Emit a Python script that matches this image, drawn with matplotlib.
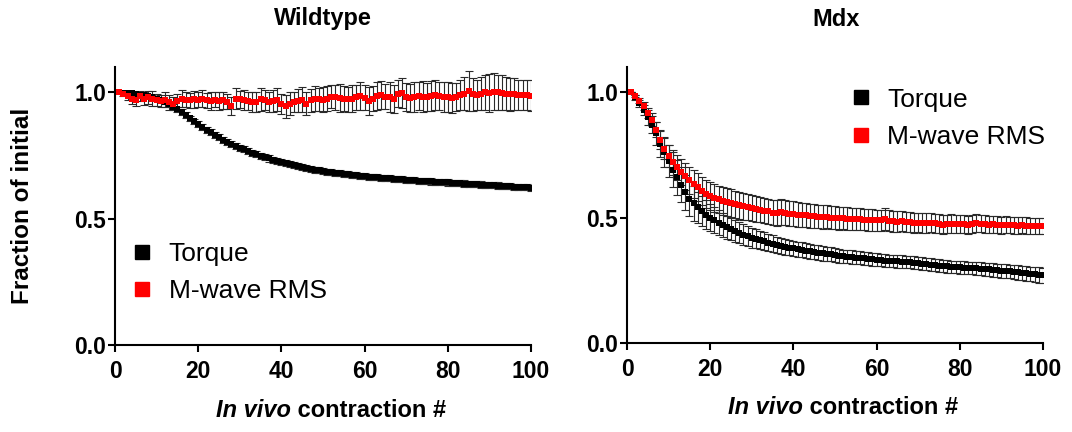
import matplotlib.pyplot as plt
import numpy as np
from matplotlib.lines import Line2D
from matplotlib.offsetbox import TextArea, HPacker, AnnotationBbox

plt.rcParams['font.family'] = ['Liberation Sans', 'DejaVu Sans']

contraction = np.arange(1, 101)

# Wildtype
wt_torque = [
    1.000, 0.998, 0.996, 0.999, 0.994, 0.991, 0.989, 0.985, 0.980, 0.975,
    0.969, 0.961, 0.952, 0.943, 0.933, 0.921, 0.909, 0.897, 0.885, 0.873,
    0.862, 0.851, 0.841, 0.831, 0.822, 0.813, 0.804, 0.796, 0.788, 0.781,
    0.774, 0.767, 0.760, 0.754, 0.749, 0.743, 0.738, 0.733, 0.728, 0.723,
    0.719, 0.715, 0.711, 0.707, 0.704, 0.700, 0.697, 0.694, 0.691, 0.689,
    0.686, 0.684, 0.681, 0.679, 0.677, 0.675, 0.673, 0.671, 0.669, 0.668,
    0.666, 0.665, 0.663, 0.662, 0.660, 0.659, 0.658, 0.656, 0.655, 0.654,
    0.653, 0.652, 0.650, 0.649, 0.648, 0.647, 0.646, 0.645, 0.644, 0.643,
    0.642, 0.641, 0.640, 0.639, 0.638, 0.637, 0.636, 0.635, 0.634, 0.633,
    0.632, 0.631, 0.630, 0.629, 0.628, 0.627, 0.626, 0.625, 0.624, 0.623]
wt_torque_err = [
    0.000, 0.004, 0.005, 0.005, 0.006, 0.006, 0.007, 0.007, 0.008, 0.008,
    0.009, 0.009, 0.010, 0.010, 0.010, 0.011, 0.011, 0.011, 0.011, 0.012,
    0.012, 0.012, 0.012, 0.012, 0.012, 0.012, 0.012, 0.012, 0.012, 0.012,
    0.012, 0.012, 0.012, 0.012, 0.012, 0.012, 0.012, 0.012, 0.012, 0.012,
    0.012, 0.012, 0.012, 0.012, 0.012, 0.012, 0.012, 0.012, 0.012, 0.012,
    0.012, 0.012, 0.012, 0.012, 0.012, 0.012, 0.012, 0.012, 0.012, 0.012,
    0.012, 0.012, 0.012, 0.012, 0.012, 0.012, 0.012, 0.012, 0.012, 0.012,
    0.012, 0.012, 0.012, 0.012, 0.012, 0.012, 0.012, 0.012, 0.012, 0.012,
    0.012, 0.012, 0.012, 0.012, 0.012, 0.012, 0.012, 0.012, 0.012, 0.012,
    0.012, 0.012, 0.012, 0.012, 0.012, 0.012, 0.012, 0.012, 0.012, 0.012]
wt_mwave = [
    1.000, 0.995, 0.985, 0.975, 0.970, 0.985, 0.975, 0.980, 0.975, 0.970,
    0.965, 0.970, 0.960, 0.955, 0.965, 0.975, 0.970, 0.968, 0.972, 0.970,
    0.975, 0.968, 0.966, 0.970, 0.965, 0.968, 0.962, 0.945, 0.975, 0.972,
    0.968, 0.965, 0.962, 0.962, 0.972, 0.968, 0.962, 0.965, 0.970, 0.955,
    0.945, 0.955, 0.962, 0.966, 0.970, 0.955, 0.968, 0.975, 0.972, 0.970,
    0.975, 0.982, 0.980, 0.978, 0.975, 0.972, 0.975, 0.980, 0.985, 0.978,
    0.965, 0.975, 0.985, 0.988, 0.982, 0.980, 0.972, 0.995, 0.998, 0.982,
    0.978, 0.982, 0.985, 0.983, 0.980, 0.985, 0.988, 0.985, 0.982, 0.980,
    0.978, 0.982, 0.990, 0.995, 1.005, 0.992, 0.988, 0.995, 1.000, 0.998,
    1.003, 1.000, 0.998, 0.995, 0.992, 0.993, 0.990, 0.988, 0.988, 0.987]
wt_mwave_err = [
    0.000, 0.010, 0.015, 0.020, 0.025, 0.020, 0.025, 0.025, 0.030, 0.025,
    0.025, 0.030, 0.030, 0.025, 0.030, 0.035, 0.030, 0.030, 0.035, 0.030,
    0.035, 0.030, 0.035, 0.030, 0.035, 0.035, 0.030, 0.035, 0.040, 0.035,
    0.040, 0.035, 0.040, 0.040, 0.045, 0.040, 0.040, 0.045, 0.045, 0.040,
    0.045, 0.045, 0.040, 0.045, 0.050, 0.045, 0.045, 0.050, 0.045, 0.050,
    0.050, 0.045, 0.050, 0.055, 0.050, 0.050, 0.055, 0.050, 0.055, 0.050,
    0.055, 0.050, 0.055, 0.055, 0.050, 0.060, 0.055, 0.055, 0.060, 0.055,
    0.055, 0.060, 0.055, 0.060, 0.055, 0.060, 0.060, 0.055, 0.060, 0.060,
    0.060, 0.055, 0.060, 0.065, 0.080, 0.065, 0.060, 0.065, 0.070, 0.075,
    0.075, 0.070, 0.070, 0.065, 0.065, 0.065, 0.060, 0.060, 0.060, 0.060]

# Mdx
mdx_torque = [
    1.000, 0.980, 0.955, 0.930, 0.900, 0.870, 0.835, 0.795, 0.760, 0.725,
    0.690, 0.660, 0.630, 0.600, 0.575, 0.556, 0.540, 0.525, 0.512, 0.500,
    0.489, 0.479, 0.470, 0.462, 0.454, 0.446, 0.439, 0.432, 0.426, 0.420,
    0.415, 0.410, 0.405, 0.400, 0.395, 0.390, 0.386, 0.383, 0.380, 0.377,
    0.374, 0.371, 0.368, 0.365, 0.362, 0.360, 0.357, 0.355, 0.353, 0.350,
    0.348, 0.345, 0.344, 0.342, 0.340, 0.339, 0.337, 0.335, 0.333, 0.331,
    0.330, 0.328, 0.327, 0.326, 0.325, 0.324, 0.323, 0.322, 0.320, 0.318,
    0.316, 0.314, 0.312, 0.310, 0.308, 0.306, 0.305, 0.303, 0.302, 0.301,
    0.300, 0.299, 0.298, 0.297, 0.296, 0.294, 0.293, 0.291, 0.290, 0.288,
    0.286, 0.285, 0.283, 0.281, 0.279, 0.277, 0.275, 0.273, 0.271, 0.270]
mdx_torque_err = [
    0.000, 0.010, 0.015, 0.020, 0.030, 0.035, 0.045, 0.055, 0.060, 0.065,
    0.070, 0.070, 0.070, 0.070, 0.070, 0.068, 0.062, 0.060, 0.058, 0.055,
    0.052, 0.050, 0.048, 0.046, 0.045, 0.043, 0.042, 0.041, 0.040, 0.040,
    0.038, 0.037, 0.036, 0.035, 0.034, 0.033, 0.032, 0.032, 0.031, 0.031,
    0.030, 0.030, 0.030, 0.030, 0.029, 0.029, 0.029, 0.028, 0.028, 0.028,
    0.028, 0.027, 0.027, 0.027, 0.027, 0.026, 0.026, 0.026, 0.026, 0.026,
    0.025, 0.025, 0.025, 0.025, 0.025, 0.025, 0.025, 0.025, 0.025, 0.025,
    0.025, 0.025, 0.025, 0.025, 0.025, 0.025, 0.025, 0.025, 0.025, 0.025,
    0.025, 0.025, 0.025, 0.025, 0.025, 0.025, 0.026, 0.026, 0.026, 0.027,
    0.027, 0.027, 0.028, 0.028, 0.028, 0.029, 0.029, 0.030, 0.030, 0.030]
mdx_mwave = [
    1.000, 0.985, 0.965, 0.945, 0.915, 0.890, 0.850, 0.810, 0.775, 0.745,
    0.720, 0.700, 0.680, 0.665, 0.648, 0.633, 0.620, 0.607, 0.595, 0.585,
    0.578, 0.572, 0.567, 0.563, 0.558, 0.553, 0.549, 0.545, 0.541, 0.538,
    0.535, 0.532, 0.528, 0.525, 0.520, 0.518, 0.522, 0.520, 0.516, 0.515,
    0.512, 0.510, 0.509, 0.507, 0.505, 0.504, 0.502, 0.503, 0.500, 0.499,
    0.497, 0.498, 0.495, 0.494, 0.493, 0.494, 0.492, 0.490, 0.490, 0.489,
    0.490, 0.494, 0.488, 0.485, 0.484, 0.485, 0.483, 0.482, 0.480, 0.480,
    0.479, 0.478, 0.480, 0.477, 0.476, 0.472, 0.475, 0.476, 0.474, 0.475,
    0.473, 0.472, 0.474, 0.478, 0.476, 0.474, 0.472, 0.473, 0.471, 0.470,
    0.472, 0.470, 0.469, 0.468, 0.470, 0.468, 0.467, 0.466, 0.466, 0.465]
mdx_mwave_err = [
    0.000, 0.005, 0.010, 0.015, 0.020, 0.025, 0.030, 0.035, 0.040, 0.045,
    0.050, 0.050, 0.052, 0.054, 0.055, 0.056, 0.056, 0.056, 0.056, 0.056,
    0.056, 0.055, 0.055, 0.055, 0.055, 0.054, 0.053, 0.053, 0.052, 0.052,
    0.052, 0.051, 0.051, 0.050, 0.050, 0.050, 0.052, 0.050, 0.050, 0.050,
    0.049, 0.049, 0.048, 0.048, 0.048, 0.047, 0.047, 0.046, 0.046, 0.046,
    0.045, 0.045, 0.045, 0.044, 0.044, 0.044, 0.043, 0.043, 0.043, 0.042,
    0.042, 0.042, 0.041, 0.041, 0.041, 0.040, 0.040, 0.040, 0.040, 0.039,
    0.039, 0.039, 0.038, 0.038, 0.038, 0.037, 0.037, 0.037, 0.036, 0.036,
    0.036, 0.036, 0.035, 0.035, 0.035, 0.035, 0.034, 0.034, 0.034, 0.034,
    0.034, 0.033, 0.033, 0.033, 0.033, 0.033, 0.032, 0.032, 0.032, 0.032]

series_labels = ['Torque', 'M-wave RMS']
series_colors = ['black', '#ff0000']
panel_titles = ['Wildtype', 'Mdx']

fig = plt.figure(figsize=(10.72, 4.32), dpi=100)
ax_wt = fig.add_axes([0.1073, 0.2014, 0.388, 0.6435])
ax_mdx = fig.add_axes([0.5849, 0.2060, 0.388, 0.6390])

panels = [
    (ax_wt, [(wt_torque, wt_torque_err), (wt_mwave, wt_mwave_err)]),
    (ax_mdx, [(mdx_torque, mdx_torque_err), (mdx_mwave, mdx_mwave_err)]),
]

for ax, data in panels:
    # error bars first, markers on top
    for vals, errs in data:
        ax.errorbar(contraction, vals, yerr=errs, fmt='none',
                    ecolor='#2a2a2a', elinewidth=0.8, capsize=3,
                    capthick=0.8, zorder=2)
    for (vals, errs), col in zip(data, series_colors):
        ax.plot(contraction, vals, 's', color=col, markersize=4.8,
                markeredgewidth=0, zorder=3)
    ax.set_xlim(0, 100)
    ax.set_ylim(0, 1.1)
    ax.set_xticks([0, 20, 40, 60, 80, 100])
    ax.set_yticks([0.0, 0.5, 1.0])
    ax.set_yticklabels(['0.0', '0.5', '1.0'])
    for s in ['top', 'right']:
        ax.spines[s].set_visible(False)
    for s in ['left', 'bottom']:
        ax.spines[s].set_linewidth(1.5)
    ax.tick_params(width=1.5, length=5, labelsize=16.5)
    ax.tick_params(axis='x', pad=6)
    ax.tick_params(axis='y', pad=1.5)
    for lbl in ax.get_xticklabels() + ax.get_yticklabels():
        lbl.set_fontweight('bold')

    # x label: "In vivo" italic, rest plain
    parts = HPacker(children=[
        TextArea('In vivo', textprops=dict(style='italic', weight='bold',
                                           size=17)),
        TextArea(' contraction #', textprops=dict(weight='bold', size=17)),
    ], sep=0, pad=0, align='baseline')
    ab = AnnotationBbox(parts, (0.52, -0.235), xycoords='axes fraction',
                        box_alignment=(0.5, 0.5), frameon=False)
    ax.add_artist(ab)

handles = [Line2D([], [], marker='s', linestyle='none', color=c,
                  markersize=10) for c in series_colors]
ax_wt.legend(handles, series_labels, loc='upper left',
             bbox_to_anchor=(0.04, 0.37), frameon=False, fontsize=19,
             handlelength=0.8, handletextpad=0.6, labelspacing=0.5,
             borderpad=0, borderaxespad=0)
ax_mdx.legend(handles, series_labels, loc='upper left',
              bbox_to_anchor=(0.537, 0.925), frameon=False, fontsize=19,
              handlelength=0.8, handletextpad=0.6, labelspacing=0.5,
              borderpad=0, borderaxespad=0)

fig.text(323 / 1072, 1 - 19 / 432, panel_titles[0], ha='center',
         va='center', fontsize=17, fontweight='bold')
fig.text(836 / 1072, 1 - 19 / 432, panel_titles[1], ha='center',
         va='center', fontsize=17, fontweight='bold')
fig.text(23 / 1072, 1 - 206 / 432, 'Fraction of initial', rotation=90,
         ha='center', va='center', fontsize=17.5, fontweight='bold')

plt.savefig('out.png', dpi=100)
